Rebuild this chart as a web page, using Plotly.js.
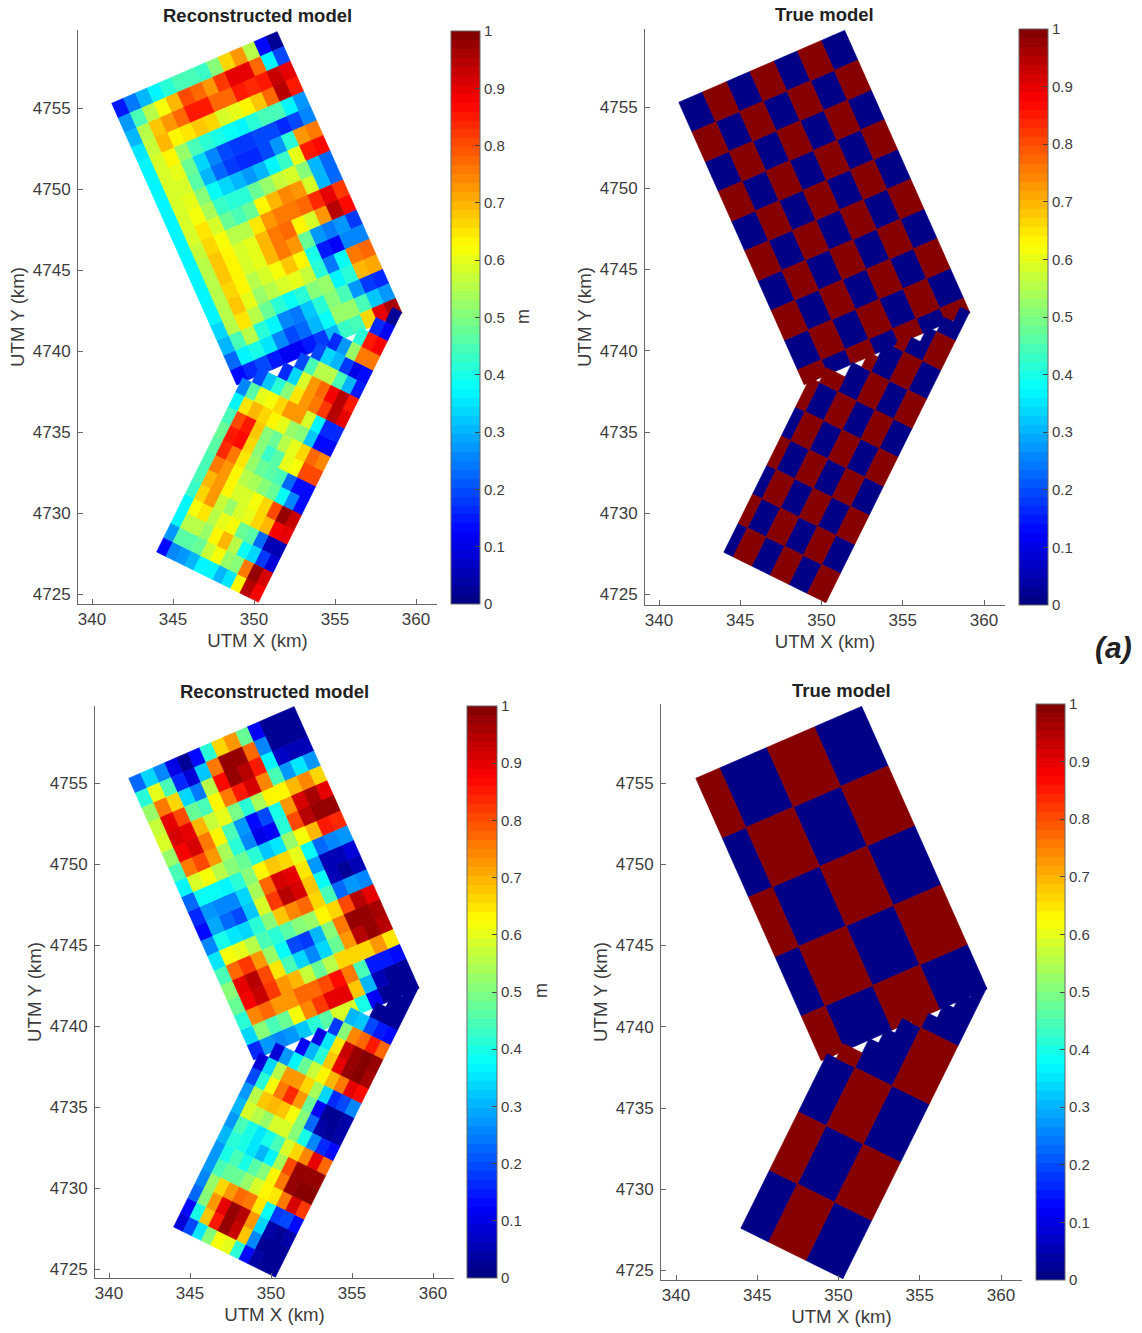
<!DOCTYPE html>
<html>
<head>
<meta charset="utf-8">
<script src="https://cdn.plot.ly/plotly-3.0.1.min.js"></script>
<style>html,body{margin:0;padding:0;background:#fff}</style>
</head>
<body>
<div id="chart" style="width:1142px;height:1333px"></div>
<script>
// ---------- values (percent of the 0-1 colour scale) ----------
const reconAUpper = [
[15,24,30,36,42,45,45,43,50,66,73,55,14,3],
[27,45,55,62,70,80,78,72,82,90,90,78,37,20],
[31,55,68,73,78,85,85,78,77,85,84,85,93,90],
[35,57,70,64,65,68,66,58,60,63,68,77,94,85],
[36,58,64,53,45,42,40,38,37,42,44,44,36,27],
[36,58,60,47,33,25,20,18,18,20,19,17,20,25],
[36,58,59,46,30,22,18,16,16,20,28,42,72,76],
[36,58,60,50,38,33,30,28,30,36,43,60,85,86],
[36,58,62,54,43,41,42,48,52,57,58,50,30,22],
[36,58,65,58,48,45,47,63,70,74,72,58,30,22],
[36,57,66,62,56,56,65,72,76,76,78,83,90,82],
[36,56,68,64,58,60,69,75,78,64,58,72,94,86],
[36,55,68,64,58,60,70,75,72,47,27,24,28,18],
[36,55,67,63,55,58,62,68,64,40,15,12,26,25],
[36,55,68,60,52,55,58,60,57,42,24,38,76,78],
[34,56,65,55,47,42,38,42,50,52,37,42,70,71],
[30,45,55,42,36,26,24,32,42,50,44,27,18,16],
[22,36,40,35,25,20,22,30,38,52,52,44,32,27],
[13,17,20,15,12,11,15,18,30,43,45,66,90,96]
];
const reconALower = [
[14,25,27,30,36,37,30,35,63,95,89],
[27,46,46,47,57,62,52,50,76,98,92],
[36,55,55,52,63,70,55,38,33,18,8],
[37,62,65,56,60,62,48,46,22,5,5],
[43,66,72,57,53,58,60,66,70,88,90],
[45,70,73,63,58,58,62,66,80,98,93],
[45,75,72,63,56,54,50,47,38,26,13],
[46,83,75,65,53,47,46,45,23,13,13],
[47,85,87,67,50,43,46,60,62,80,80],
[45,80,85,68,50,47,55,60,66,78,74],
[37,65,70,66,64,60,52,50,32,14,14],
[25,46,60,62,66,72,72,58,37,17,17],
[null,20,32,42,50,65,72,76,82,94,90],
[null,null,null,17,33,58,72,78,88,94,85],
[null,null,null,null,20,44,56,56,45,30,15],
[null,null,null,null,null,20,34,30,18,10,13],
[null,null,null,null,null,null,16,27,52,76,76],
[null,null,null,null,null,null,null,null,42,85,88],
[null,null,null,null,null,null,null,null,null,17,12],
[null,null,null,null,null,null,null,null,null,null,2]
];
const reconBUpper = [
[22,33,25,10,3,14,42,67,72,48,12,3,2,2],
[42,60,45,17,9,32,76,98,98,78,25,3,2,3],
[52,75,66,33,24,55,87,98,95,85,37,7,5,6],
[57,90,80,48,45,63,75,85,92,74,44,27,35,27],
[58,92,90,70,57,60,49,42,54,64,63,70,74,66],
[52,88,92,75,63,45,28,13,20,40,73,92,96,90],
[45,75,80,72,54,41,25,10,12,42,80,94,98,97],
[36,58,62,55,50,48,42,32,35,52,62,70,85,84],
[22,38,38,36,42,50,64,68,66,60,38,22,25,27],
[17,28,25,25,33,54,78,92,90,65,28,6,5,8],
[13,29,22,20,32,58,82,94,92,68,38,5,3,5],
[25,40,35,34,42,50,68,74,77,67,45,23,27,25],
[35,62,60,55,44,42,46,50,53,64,66,80,95,90],
[45,78,82,73,52,38,20,18,30,50,76,98,98,96],
[50,90,95,80,65,44,34,25,33,48,72,95,98,95],
[47,88,93,82,72,70,57,48,55,66,66,66,72,65],
[42,74,78,72,72,78,78,80,87,75,44,15,15,13],
[34,50,45,48,62,74,82,90,90,68,30,5,3,3],
[17,27,25,27,32,42,46,58,58,40,12,3,2,2]
];
const reconBLower = [
[8,20,35,50,62,60,42,14,4,2,2],
[13,40,68,85,97,93,68,25,3,2,2],
[22,50,73,90,97,95,73,33,4,3,4],
[25,52,66,72,78,75,65,38,18,20,14],
[28,45,48,48,52,58,64,65,76,92,82],
[28,40,45,40,46,50,63,76,97,99,99],
[30,42,40,35,30,36,54,80,98,98,97],
[28,44,40,35,40,45,58,66,74,90,78],
[30,58,56,52,58,58,50,40,25,17,13],
[27,55,68,70,68,62,50,22,4,3,4],
[20,42,62,76,84,72,48,12,3,3,4],
[8,34,55,72,73,66,54,34,16,19,25],
[null,8,28,37,47,57,64,70,76,90,86],
[null,null,null,12,30,42,68,90,98,99,96],
[null,null,null,null,10,35,65,93,98,99,98],
[null,null,null,null,null,18,50,74,77,85,78],
[null,null,null,null,null,null,30,32,20,15,13],
[null,null,null,null,null,null,null,null,3,2,2],
[null,null,null,null,null,null,null,null,null,2,2],
[null,null,null,null,null,null,null,null,null,null,2]
];
// true models: 0 = low, 1 = high, "." = no cell
const trueAUpper = [
"00110011001100","00110011001100","11001100110011","11001100110011",
"00110011001100","00110011001100","11001100110011","11001100110011",
"00110011001100","00110011001100","11001100110011","11001100110011",
"00110011001100","00110011001100","11001100110011","11001100110011",
"00110011001100","00110011001100","11001100110011"
];
const trueALower = [
"01100110011","01100110011","10011001100","10011001100",
"01100110011","01100110011","10011001100","10011001100",
"01100110011","01100110011","10011001100","10011001100",
".1100110011","...00110011","....1001100",".....001100",
"......10011","........011",".........00","..........0"
];
const trueBUpper = [
"11000011110000","11000011110000","11000011110000","11000011110000",
"00111100001111","00111100001111","00111100001111","00111100001111",
"11000011110000","11000011110000","11000011110000","11000011110000",
"00111100001111","00111100001111","00111100001111","00111100001111",
"11000011110000","11000011110000","11000011110000"
];
const trueBLower = [
"00011110000","00011110000","00011110000","00011110000",
"11100001111","11100001111","11100001111","11100001111",
"00011110000","00011110000","00011110000","00011110000",
".1100001111","...00001111","....0001111",".....001111",
"......10000","........000",".........00","..........0"
];
// grid geometry in UTM km: origin corner, step per column, step per row
const upperGrid = {o:[341.22,4755.29], col:[0.729,0.316], row:[0.406,-0.915]};
const lowerGrid = {o:[343.99,4727.60], col:[0.571,-0.282], row:[0.4424,0.895]};
const xTicks = [340,345,350,355,360];
const yTicks = [4725,4730,4735,4740,4745,4750,4755];
const cbTicks = [0,0.1,0.2,0.3,0.4,0.5,0.6,0.7,0.8,0.9,1];
const cbLabels = ["0","0.1","0.2","0.3","0.4","0.5","0.6","0.7","0.8","0.9","1"];

// ---------- jet colour map, 64 bands ----------
function jetRGB(t){
  const f=(a)=>Math.max(0,Math.min(1,1.5-Math.abs(4*t-a)));
  return "rgb("+[f(3),f(2),f(1)].map(v=>Math.round(v*255)).join(",")+")";
}
const N=64, jet=[], jetScale=[];
for(let i=0;i<N;i++){ jet.push(jetRGB((i+0.5)/N)); jetScale.push([i/N,jet[i]],[(i+1)/N,jet[i]]); }
const pick=(v)=>Math.min(N-1,Math.floor(v*N));

function parse(rows){
  return rows.map(r=>typeof r==="string"
    ? r.split("").map(ch=>ch==="."?null:+ch)
    : r.map(v=>v===null?null:v/100));
}
function blockTraces(rows,g,ax){
  const bins={};
  rows.forEach((row,r)=>row.forEach((v,c)=>{
    if(v===null) return;
    const k=pick(v); const b=bins[k]||(bins[k]={x:[],y:[]});
    const pt=(i,j)=>[g.o[0]+j*g.col[0]+i*g.row[0], g.o[1]+j*g.col[1]+i*g.row[1]];
    [pt(r,c),pt(r,c+1),pt(r+1,c+1),pt(r+1,c),pt(r,c)].forEach(p=>{b.x.push(p[0]);b.y.push(p[1]);});
    b.x.push(null);b.y.push(null);
  }));
  return Object.keys(bins).map(k=>({type:"scatter",mode:"lines",fill:"toself",x:bins[k].x,y:bins[k].y,
    xaxis:ax[0],yaxis:ax[1],fillcolor:jet[k],line:{color:jet[k],width:0.7},hoverinfo:"skip",showlegend:false}));
}

// ---------- panels, in page pixels ----------
const W=1142,H=1333,FONT="Liberation Sans, Arial, sans-serif",INK="#3c3c3c",AXC="#666";
const panels=[
 {t:"Reconstructed model",up:reconAUpper,lo:reconALower,l:78,r:437,top:30,bot:604,x340:92,y4755:108,ppk:16.2,cb:[451,480,31,604],unit:[523,317],tx:257,ty:15},
 {t:"True model",up:trueAUpper,lo:trueALower,l:645,r:1005,top:29,bot:605,x340:659,y4755:107,ppk:16.25,cb:[1019,1048,29,605],unit:null,tx:824,ty:14},
 {t:"Reconstructed model",up:reconBUpper,lo:reconBLower,l:95,r:454,top:706,bot:1278,x340:109,y4755:783,ppk:16.2,cb:[467,497,706,1278],unit:[541,991],tx:274,ty:691},
 {t:"True model",up:trueBUpper,lo:trueBLower,l:661,r:1022,top:704,bot:1280,x340:676,y4755:783,ppk:16.25,cb:[1036,1065,704,1280],unit:null,tx:841,ty:690}
];
const data=[],layout={width:W,height:H,autosize:false,margin:{l:0,r:0,t:0,b:0},paper_bgcolor:"#fff",plot_bgcolor:"#fff",
  font:{family:FONT,color:INK},showlegend:false,annotations:[]};
panels.forEach((p,i)=>{
  const n=i?String(i+1):"", xa="x"+n, ya="y"+n;
  data.push(...blockTraces(parse(p.up),upperGrid,[xa,ya]));
  data.push(...blockTraces(parse(p.lo),lowerGrid,[xa,ya]));
  data.push({type:"scatter",mode:"markers",x:[345,345],y:[4735,4735],xaxis:xa,yaxis:ya,hoverinfo:"skip",showlegend:false,
    marker:{size:1,opacity:0,color:[0,1],cmin:0,cmax:1,colorscale:jetScale,showscale:true,
      colorbar:{x:p.cb[0]/W,xanchor:"left",xpad:0,y:1-p.cb[2]/H,yanchor:"top",ypad:0,lenmode:"pixels",len:p.cb[3]-p.cb[2],
        thicknessmode:"pixels",thickness:p.cb[1]-p.cb[0],outlinecolor:AXC,outlinewidth:1,borderwidth:0,
        ticks:"inside",ticklen:5,tickcolor:"#444",tickvals:cbTicks,ticktext:cbLabels,ticklabelstandoff:2,tickfont:{size:15,color:INK,family:FONT}}}});
  const common={showgrid:false,zeroline:false,showline:true,linecolor:AXC,linewidth:1,ticks:"inside",ticklen:5,tickcolor:AXC,
    tickfont:{size:17,color:INK,family:FONT},mirror:false,fixedrange:true};
  layout["xaxis"+n]=Object.assign({},common,{anchor:ya,domain:[p.l/W,p.r/W],
    range:[340+(p.l-p.x340)/p.ppk,340+(p.r-p.x340)/p.ppk],tickmode:"array",tickvals:xTicks,ticktext:xTicks.map(String),
    title:{text:"UTM X (km)",standoff:5,font:{size:18.7,color:INK,family:FONT}}});
  layout["yaxis"+n]=Object.assign({},common,{anchor:xa,domain:[1-p.bot/H,1-p.top/H],
    range:[4755-(p.bot-p.y4755)/p.ppk,4755+(p.y4755-p.top)/p.ppk],tickmode:"array",tickvals:yTicks,ticktext:yTicks.map(String),ticklabelstandoff:3,
    title:{text:"UTM Y (km)",standoff:3,font:{size:18.7,color:INK,family:FONT}}});
  layout.annotations.push({xref:"paper",yref:"paper",x:p.tx/W,y:1-p.ty/H,xanchor:"center",yanchor:"middle",showarrow:false,
    text:"<b>"+p.t+"</b>",font:{size:18.5,color:"#222",family:FONT}});
  if(p.unit) layout.annotations.push({xref:"paper",yref:"paper",x:p.unit[0]/W,y:1-p.unit[1]/H,xanchor:"center",yanchor:"middle",showarrow:false,
    textangle:-90,text:"m",font:{size:18,color:INK,family:FONT}});
});
layout.annotations.push({xref:"paper",yref:"paper",x:1113/W,y:1-647/H,xanchor:"center",yanchor:"middle",showarrow:false,
  text:"<b><i>(a)</i></b>",font:{size:30,color:"#222",family:FONT}});
Plotly.newPlot("chart",data,layout,{displayModeBar:false,staticPlot:true});
</script>
</body>
</html>
